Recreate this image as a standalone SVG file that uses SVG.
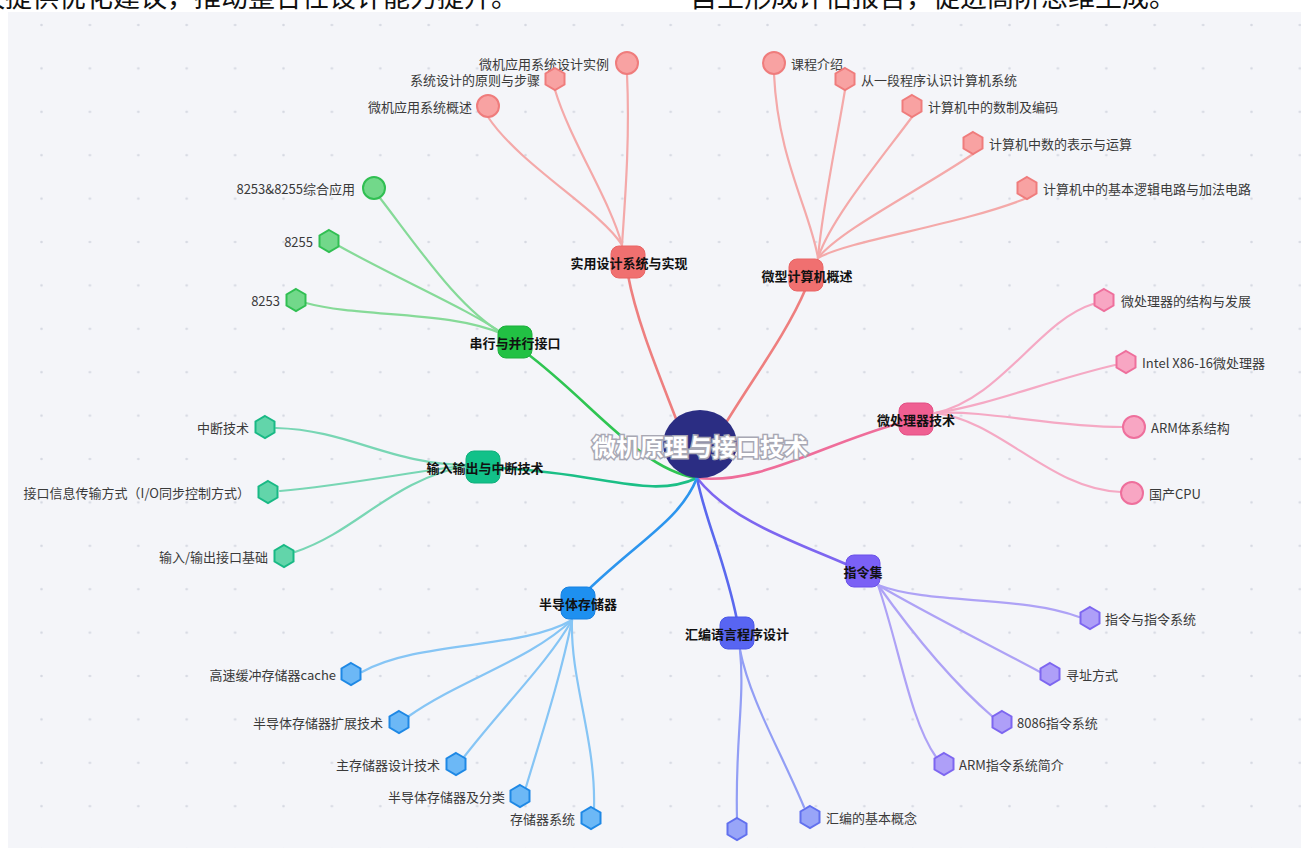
<svg xmlns="http://www.w3.org/2000/svg" width="1301" height="848" viewBox="0 0 1301 848">
<defs>
<pattern id="dots" patternUnits="userSpaceOnUse" x="17.3" y="3.3" width="48.4" height="43.4">
<circle cx="24.2" cy="21.7" r="1.3" fill="#d6d9e2"/>
</pattern>
<polygon id="hex" points="0,-11 9.5,-5.5 9.5,5.5 0,11 -9.5,5.5 -9.5,-5.5"/>
</defs>
<style>
.lbl{font-family:"Noto Sans CJK SC","Noto Sans",sans-serif;font-size:13px;fill:#3a3a3a;dominant-baseline:central}
.end{text-anchor:end}
.br{font-family:"Noto Sans CJK SC","Noto Sans",sans-serif;font-size:13px;font-weight:bold;fill:#111;text-anchor:middle;dominant-baseline:central}
.top{font-family:"Noto Sans CJK SC","Noto Sans",sans-serif;font-size:27px;fill:#111}
.e{fill:none;stroke-width:2.2;stroke-linecap:round}
.m{fill:none;stroke-width:2.6;stroke-linecap:round}
.red .e{stroke:#f4a9a9}.red .lf{fill:#f8a2a2;stroke:#ef7c7c;stroke-width:2}
.grn .e{stroke:#86da98}.grn .lf{fill:#72d88a;stroke:#30bf52;stroke-width:2}
.teal .e{stroke:#78d6b4}.teal .lf{fill:#62d5aa;stroke:#19b985;stroke-width:2}
.pink .e{stroke:#f5a9c4}.pink .lf{fill:#f8a6c3;stroke:#ee6f9c;stroke-width:2}
.pur .e{stroke:#aea2f6}.pur .lf{fill:#ae9ff8;stroke:#7d66f0;stroke-width:2}
.ind .e{stroke:#929ef5}.ind .lf{fill:#98a5f8;stroke:#6170ee;stroke-width:2}
.blu .e{stroke:#86c5f5}.blu .lf{fill:#6cb8f6;stroke:#1e88e5;stroke-width:2}
</style>
<rect x="0" y="0" width="1301" height="848" fill="#ffffff"/>
<rect x="8" y="12" width="1293" height="836" fill="#f4f5f9"/>
<rect x="8" y="12" width="1293" height="836" fill="url(#dots)"/>
<text class="top" x="-22" y="7">议提供优化建议，推动整合性设计能力提升。</text>
<text class="top" x="690" y="7">自主形成评估报告，促进高阶思维生成。</text>

<g id="connectors">
<path class="m" stroke="#ee7f7f" d="M628,275 C640,340 680,420 697,478"/>
<path class="m" stroke="#ee7f7f" d="M806,288 C780,350 720,420 697,478"/>
<path class="m" stroke="#2fc552" d="M525,352 C590,400 640,470 697,478"/>
<path class="m" stroke="#1bbf86" d="M497,468 C600,472 650,500 697,478"/>
<path class="m" stroke="#ef6d9a" d="M900,423 C820,445 760,485 697,478"/>
<path class="m" stroke="#7d66f0" d="M848,565 C790,540 730,520 697,478"/>
<path class="m" stroke="#5a68ee" d="M737,620 C725,560 705,520 697,478"/>
<path class="m" stroke="#2c95ee" d="M588,590 C640,540 680,520 697,478"/>
<g class="red">
<path class="e" d="M627,74 C630,140 625,200 622,245"/>
<path class="e" d="M555,90 C570,140 610,200 622,245"/>
<path class="e" d="M488,117 C520,165 600,210 622,245"/>
<path class="e" d="M774,74 C778,160 810,210 818,258"/>
<path class="e" d="M845,90 C835,150 822,210 818,258"/>
<path class="e" d="M912,117 C880,160 830,220 818,258"/>
<path class="e" d="M973,154 C920,190 840,230 818,258"/>
<path class="e" d="M1027,198 C960,225 850,240 818,258"/>
</g>
<g class="grn">
<path class="e" d="M380,198 C420,250 460,310 505,335"/>
<path class="e" d="M339,246 C400,280 470,310 505,335"/>
<path class="e" d="M306,303 C360,318 450,310 505,335"/>
</g>
<g class="teal">
<path class="e" d="M276,428 C350,430 390,465 470,465"/>
<path class="e" d="M280,491 C350,485 420,470 470,465"/>
<path class="e" d="M295,552 C360,530 390,480 470,465"/>
</g>
<g class="pink">
<path class="e" d="M1093,304 C1040,320 1000,400 935,413"/>
<path class="e" d="M1115,365 C1050,380 990,405 935,413"/>
<path class="e" d="M1123,427 C1050,427 990,410 935,413"/>
<path class="e" d="M1121,492 C1050,490 1000,420 935,413"/>
</g>
<g class="pur">
<path class="e" d="M1079,617 C1020,595 930,605 878,585"/>
<path class="e" d="M1040,672 C980,640 920,610 878,585"/>
<path class="e" d="M993,717 C950,680 910,630 878,585"/>
<path class="e" d="M936,757 C910,720 900,650 878,585"/>
</g>
<g class="ind">
<path class="e" d="M737,818 C735,740 745,700 740,650"/>
<path class="e" d="M804,807 C780,750 750,700 740,650"/>
</g>
<g class="blu">
<path class="e" d="M362,672 C420,640 520,650 572,620"/>
<path class="e" d="M409,716 C460,680 530,660 572,620"/>
<path class="e" d="M464,757 C500,710 550,660 572,620"/>
<path class="e" d="M526,787 C540,740 560,680 572,620"/>
<path class="e" d="M594,808 C596,740 570,680 572,620"/>
</g>
</g>

<g id="center">
<ellipse cx="700" cy="444" rx="37" ry="34" fill="#2b2d83"/>
<text x="700" y="445" font-family="Noto Sans CJK SC, sans-serif" font-size="24" font-weight="bold" fill="#ffffff" stroke="#a8a8b4" stroke-width="3" paint-order="stroke" text-anchor="middle" dominant-baseline="central">微机原理与接口技术</text>
</g>

<g id="b-shiyong"><rect x="611" y="246" width="34" height="32" rx="8" fill="#f07070" stroke="#e96464"/><text class="br" x="629" y="262">实用设计系统与实现</text></g>
<g id="b-weixing"><rect x="789" y="259" width="34" height="32" rx="8" fill="#f07070" stroke="#e96464"/><text class="br" x="807" y="275">微型计算机概述</text></g>
<g id="b-chuanxing"><rect x="498" y="326" width="34" height="32" rx="8" fill="#22c144" stroke="#1cae3b"/><text class="br" x="515" y="342">串行与并行接口</text></g>
<g id="b-shuru"><rect x="466" y="451" width="34" height="32" rx="8" fill="#12c189" stroke="#0faf7c"/><text class="br" x="485" y="467">输入输出与中断技术</text></g>
<g id="b-weichuli"><rect x="899" y="403" width="34" height="32" rx="8" fill="#ef5f92" stroke="#e24f84"/><text class="br" x="916" y="419">微处理器技术</text></g>
<g id="b-zhiling"><rect x="846" y="555" width="34" height="32" rx="8" fill="#7b61f5" stroke="#6a50e8"/><text class="br" x="863" y="571">指令集</text></g>
<g id="b-huibian"><rect x="720" y="617" width="34" height="32" rx="8" fill="#5865f2" stroke="#4856e6"/><text class="br" x="737" y="633">汇编语言程序设计</text></g>
<g id="b-bandaoti"><rect x="561" y="587" width="34" height="32" rx="8" fill="#1e90f0" stroke="#1680e0"/><text class="br" x="578" y="603">半导体存储器</text></g>

<g class="red">
<g id="n-r1"><circle class="lf" cx="627" cy="63" r="11"/><text class="lbl end" x="609" y="63">微机应用系统设计实例</text></g>
<g id="n-r2"><use href="#hex" class="lf" x="555" y="79"/><text class="lbl end" x="540" y="79">系统设计的原则与步骤</text></g>
<g id="n-r3"><circle class="lf" cx="488" cy="106" r="11"/><text class="lbl end" x="472" y="106">微机应用系统概述</text></g>
<g id="n-r4"><circle class="lf" cx="774" cy="63" r="11"/><text class="lbl" x="791" y="63">课程介绍</text></g>
<g id="n-r5"><use href="#hex" class="lf" x="845" y="79"/><text class="lbl" x="861" y="79">从一段程序认识计算机系统</text></g>
<g id="n-r6"><use href="#hex" class="lf" x="912" y="106"/><text class="lbl" x="928" y="106">计算机中的数制及编码</text></g>
<g id="n-r7"><use href="#hex" class="lf" x="973" y="143"/><text class="lbl" x="989" y="143">计算机中数的表示与运算</text></g>
<g id="n-r8"><use href="#hex" class="lf" x="1027" y="188"/><text class="lbl" x="1043" y="188">计算机中的基本逻辑电路与加法电路</text></g>
</g>
<g class="grn">
<g id="n-g1"><circle class="lf" cx="374" cy="188" r="11"/><text class="lbl end" x="355" y="188">8253&amp;8255综合应用</text></g>
<g id="n-g2"><use href="#hex" class="lf" x="329" y="241"/><text class="lbl end" x="313" y="241">8255</text></g>
<g id="n-g3"><use href="#hex" class="lf" x="296" y="300"/><text class="lbl end" x="280" y="300">8253</text></g>
</g>
<g class="teal">
<g id="n-t1"><use href="#hex" class="lf" x="265" y="427"/><text class="lbl end" x="249" y="427">中断技术</text></g>
<g id="n-t2"><use href="#hex" class="lf" x="268" y="492"/><text class="lbl end" x="250" y="492">接口信息传输方式（I/O同步控制方式）</text></g>
<g id="n-t3"><use href="#hex" class="lf" x="284" y="556"/><text class="lbl end" x="268" y="556">输入/输出接口基础</text></g>
</g>
<g class="pink">
<g id="n-p1"><use href="#hex" class="lf" x="1104" y="300"/><text class="lbl" x="1121" y="300">微处理器的结构与发展</text></g>
<g id="n-p2"><use href="#hex" class="lf" x="1126" y="362"/><text class="lbl" x="1142" y="362">Intel X86-16微处理器</text></g>
<g id="n-p3"><circle class="lf" cx="1134" cy="427" r="11"/><text class="lbl" x="1151" y="427">ARM体系结构</text></g>
<g id="n-p4"><circle class="lf" cx="1132" cy="493" r="11"/><text class="lbl" x="1149" y="493">国产CPU</text></g>
</g>
<g class="pur">
<g id="n-u1"><use href="#hex" class="lf" x="1090" y="618"/><text class="lbl" x="1105" y="618">指令与指令系统</text></g>
<g id="n-u2"><use href="#hex" class="lf" x="1050" y="674"/><text class="lbl" x="1066" y="674">寻址方式</text></g>
<g id="n-u3"><use href="#hex" class="lf" x="1002" y="722"/><text class="lbl" x="1017" y="722">8086指令系统</text></g>
<g id="n-u4"><use href="#hex" class="lf" x="944" y="764"/><text class="lbl" x="959" y="764">ARM指令系统简介</text></g>
</g>
<g class="ind">
<g id="n-i1"><use href="#hex" class="lf" x="737" y="829"/></g>
<g id="n-i2"><use href="#hex" class="lf" x="810" y="817"/><text class="lbl" x="826" y="817">汇编的基本概念</text></g>
</g>
<g class="blu">
<g id="n-s1"><use href="#hex" class="lf" x="351" y="674"/><text class="lbl end" x="336" y="674">高速缓冲存储器cache</text></g>
<g id="n-s2"><use href="#hex" class="lf" x="399" y="722"/><text class="lbl end" x="383" y="722">半导体存储器扩展技术</text></g>
<g id="n-s3"><use href="#hex" class="lf" x="456" y="764"/><text class="lbl end" x="440" y="764">主存储器设计技术</text></g>
<g id="n-s4"><use href="#hex" class="lf" x="520" y="796"/><text class="lbl end" x="505" y="796">半导体存储器及分类</text></g>
<g id="n-s5"><use href="#hex" class="lf" x="591" y="818"/><text class="lbl end" x="575" y="818">存储器系统</text></g>
</g>
</svg>
